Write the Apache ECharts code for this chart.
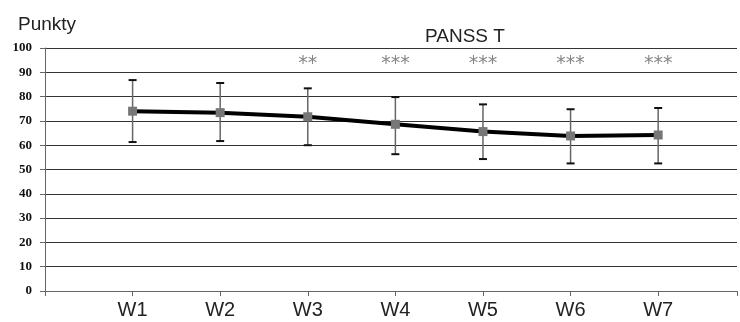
<!DOCTYPE html>
<html>
<head>
<meta charset="utf-8">
<script src="https://cdn.jsdelivr.net/npm/echarts@6/dist/echarts.min.js"></script>
<style>
  html, body { margin: 0; padding: 0; background: #fff; }
  #chart { width: 740px; height: 322px; }
</style>
</head>
<body>
<div id="chart"></div>
<script>
const weeks = ["W1", "W2", "W3", "W4", "W5", "W6", "W7"];
const meanValues = [74, 73.4, 71.7, 68.6, 65.6, 63.8, 64.2];
const lowerValues = [61.3, 61.7, 60, 56.3, 54.3, 52.5, 52.5];
const upperValues = [86.8, 85.6, 83.4, 79.8, 76.8, 74.8, 75.3];
const stars = ["", "", "**", "***", "***", "***", "***"];
const yTicks = [0, 10, 20, 30, 40, 50, 60, 70, 80, 90, 100];
const starLevel = 93.5;

const chart = echarts.init(document.getElementById("chart"));

const errorData = weeks.map((w, i) => [i + 1, lowerValues[i], upperValues[i]]);

const option = {
  animation: false,
  title: [
    { text: "Punkty", left: 13, top: 10, textStyle: { fontFamily: "Liberation Sans", fontSize: 19, fontWeight: "normal", color: "#222" } },
    { text: "PANSS T", left: 420, top: 22, textStyle: { fontFamily: "Liberation Sans", fontSize: 19, fontWeight: "normal", color: "#222" } }
  ],
  grid: { left: 45, right: 0, top: 48, bottom: 31 },
  xAxis: {
    type: "value",
    min: 0,
    max: 7.9,
    interval: 1,
    splitLine: { show: false },
    axisLine: { lineStyle: { color: "#666", width: 1 } },
    axisTick: { show: true, length: 5, lineStyle: { color: "#666" } },
    axisLabel: {
      formatter: v => weeks[v - 1] || "",
      fontFamily: "Liberation Sans",
      fontSize: 20,
      color: "#222",
      margin: 9
    }
  },
  yAxis: {
    type: "value",
    min: yTicks[0],
    max: yTicks[yTicks.length - 1],
    interval: 10,
    axisLine: { show: true, lineStyle: { color: "#666" } },
    axisTick: { show: true, length: 5, lineStyle: { color: "#666" } },
    axisLabel: { fontFamily: "Liberation Serif", fontWeight: "bold", fontSize: 13, color: "#111", margin: 13 },
    splitLine: { lineStyle: { color: "#333", width: 1 } }
  },
  series: [
    {
      type: "custom",
      z: 2,
      data: errorData,
      renderItem: (params, api) => {
        const x = api.value(0);
        const lo = api.coord([x, api.value(1)]);
        const hi = api.coord([x, api.value(2)]);
        const cap = 4;
        return {
          type: "group",
          children: [
            { type: "line", shape: { x1: lo[0], y1: lo[1], x2: hi[0], y2: hi[1] }, style: { stroke: "#666", lineWidth: 1.5 } },
            { type: "line", shape: { x1: lo[0] - cap, y1: lo[1], x2: lo[0] + cap, y2: lo[1] }, style: { stroke: "#111", lineWidth: 2 } },
            { type: "line", shape: { x1: hi[0] - cap, y1: hi[1], x2: hi[0] + cap, y2: hi[1] }, style: { stroke: "#111", lineWidth: 2 } }
          ]
        };
      }
    },
    {
      type: "line",
      z: 3,
      data: meanValues.map((v, i) => [i + 1, v]),
      lineStyle: { color: "#000", width: 4 },
      symbol: "rect",
      symbolSize: 9,
      itemStyle: { color: "#777" }
    },
    {
      type: "scatter",
      z: 4,
      symbolSize: 0,
      data: stars.map((s, i) => [i + 1, starLevel]),
      label: {
        show: true,
        position: "inside",
        formatter: p => stars[p.dataIndex],
        fontFamily: "DejaVu Sans",
        fontSize: 19,
        color: "#666"
      }
    }
  ]
};

chart.setOption(option);
</script>
</body>
</html>
